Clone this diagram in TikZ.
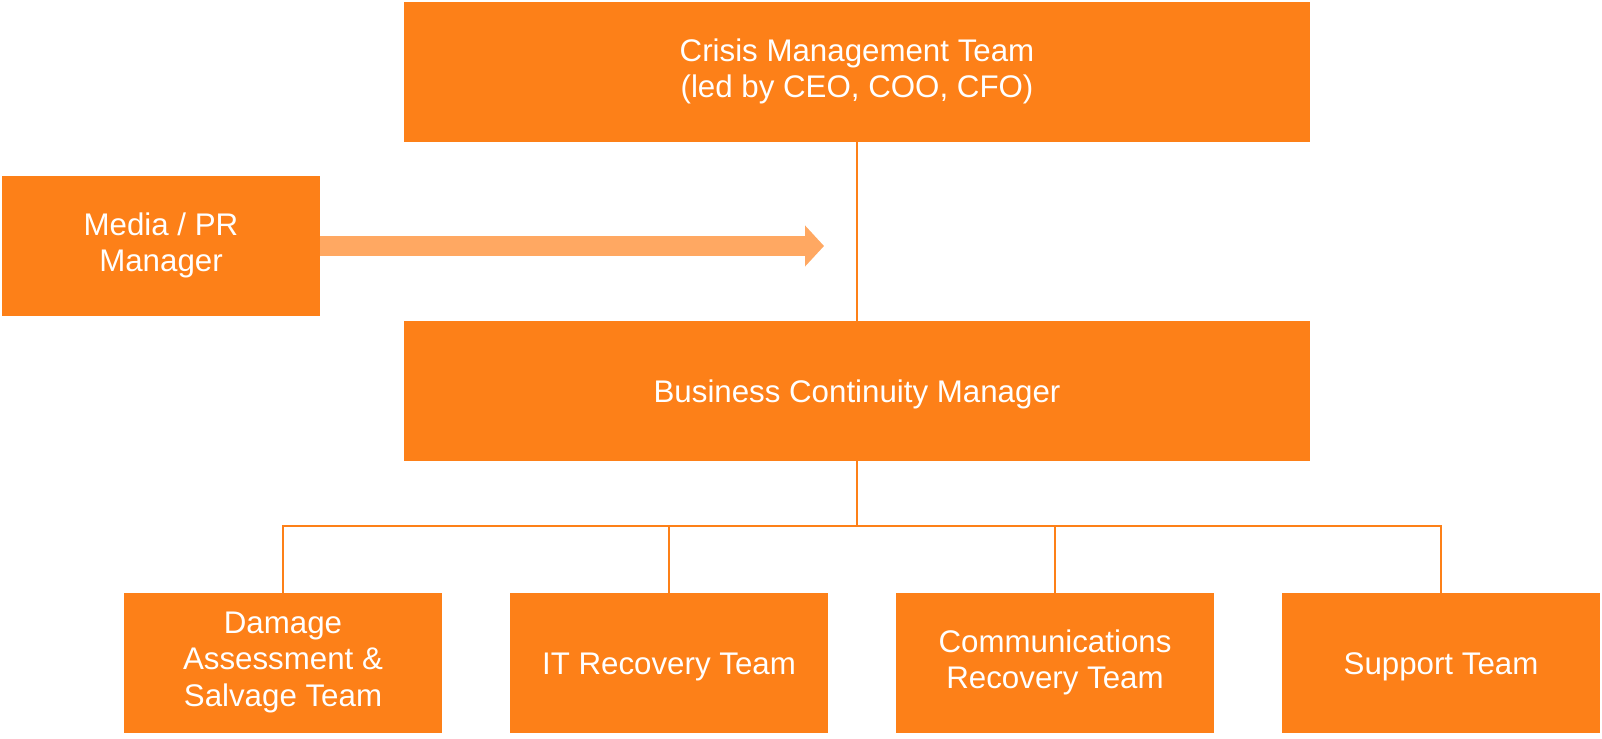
\documentclass[tikz,border=0pt]{standalone}
\usepackage{fontspec}
\setmainfont{Liberation Sans}
\usepackage{tikz}
\usetikzlibrary{
    arrows.meta,
    positioning
}
\definecolor{cmOrange}{RGB}{253,128,24}
\definecolor{cmLight}{RGB}{255,168,98}
\tikzset{
  boxtext/.style = {text=white, align=center,
                    font=\fontsize{17.8}{20.9}\selectfont,
                    execute at begin node={\rule{0pt}{0.97em}},
                    execute at end node={\rule[-0.25em]{0pt}{0pt}}},
  lead/.style   = {boxtext, fill=cmOrange, outer sep=0pt,
                   minimum width=18.14cm, minimum height=2.8cm},
  team/.style   = {boxtext, fill=cmOrange, outer sep=0pt,
                   minimum width=6.38cm, minimum height=2.8cm},
  link/.style   = {cmOrange, line width=1.1pt},
  bigarr/.style = {-{Triangle[length=0.38cm,width=0.8cm]}, cmLight,
                   line width=0.4cm}
}

\begin{document}
\begin{tikzpicture}[x=0.02cm, y=-0.02cm]
    \useasboundingbox (0,0) rectangle (1602,739);

    \node[lead] (cmt)   at (857,72)  {Crisis Management Team\\(led by CEO, COO, CFO)};
    \node[team] (media) at (161,246) {Media / PR\\Manager};
    \node[lead] (bcm)   at (857,391) {Business Continuity Manager};

    \node[team] (dmg)   at (283,663)  {Damage\\Assessment \&\\Salvage Team};
    \node[team] (itr)   at (669,663)  {IT Recovery Team};
    \node[team] (comm)  at (1055,663) {Communications\\Recovery Team};
    \node[team] (supp)  at (1441,663) {Support Team};

    \coordinate (tip) at (824,246);
    \coordinate (bus) at (857,526);

    \draw[bigarr] (media.east) -- (tip);
    \draw[link] (cmt) -- (bcm);
    \draw[link] (bcm) -- (bus);
    \draw[link] (bus) -| (dmg);
    \draw[link] (bus) -| (itr);
    \draw[link] (bus) -| (comm);
    \draw[link] (bus) -| (supp);
  \end{tikzpicture}
\end{document}
